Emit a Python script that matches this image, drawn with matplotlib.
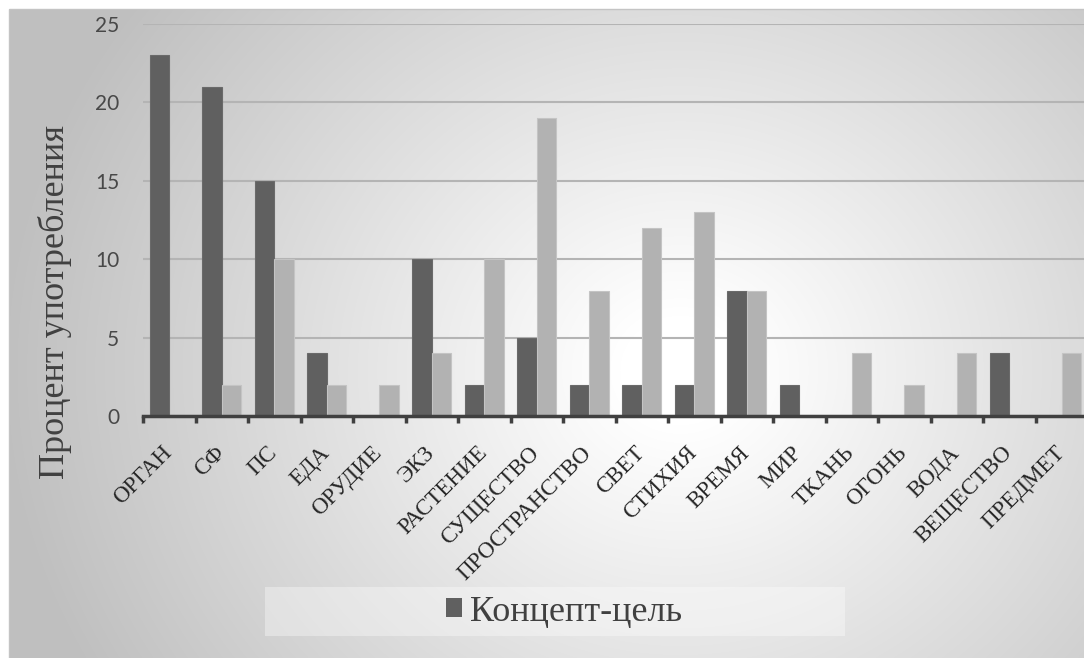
import numpy as np
import matplotlib
matplotlib.use("Agg")
import matplotlib.pyplot as plt
from matplotlib.patches import Rectangle, Patch

# Data
categories = ["ОРГАН", "СФ", "ПС", "ЕДА", "ОРУДИЕ", "ЭКЗ", "РАСТЕНИЕ", "СУЩЕСТВО",
              "ПРОСТРАНСТВО", "СВЕТ", "СТИХИЯ", "ВРЕМЯ", "МИР", "ТКАНЬ", "ОГОНЬ",
              "ВОДА", "ВЕЩЕСТВО", "ПРЕДМЕТ"]
target_vals = [23, 21, 15, 4, 0, 10, 2, 5, 2, 2, 2, 8, 2, 0, 0, 0, 4, 0]
source_vals = [0, 2, 10, 2, 2, 4, 10, 19, 8, 12, 13, 8, 0, 4, 2, 4, 0, 4]
y_ticks = [0, 5, 10, 15, 20, 25]

W, H = 1084, 658
SERIF = ["Liberation Serif", "DejaVu Serif"]
DARK = "#606060"
LIGHT = "#b2b2b2"

fig = plt.figure(figsize=(W / 100, H / 100), dpi=100)

# Background panel with radial grey gradient
bg = fig.add_axes([0, 0, 1, 1], zorder=-10)
bg.set_xlim(0, W)
bg.set_ylim(H, 0)
bg.axis("off")
xx, yy = np.meshgrid(np.arange(W), np.arange(H))
d = np.hypot((xx - 680) * 1.0, (yy - 370) * 1.1)
shade = 1 - 0.25 * np.clip((d - 60) / 620, 0, 1)
shade[(xx < 9) | (yy < 9)] = 1.0
bg.imshow(np.dstack([shade] * 3), extent=(0, W, H, 0), interpolation="bilinear")
bg.add_patch(Rectangle((9, 9), W, H, fill=False, edgecolor="#c4c4c4", lw=1))

# Legend box (slightly lighter band)
bg.add_patch(Rectangle((265, 587), 580, 49, facecolor="white", alpha=0.35, edgecolor="none"))

# Main chart
ax = fig.add_axes([143 / W, 1 - 416 / H, 945 / W, 392 / H])
ax.patch.set_alpha(0)
x = np.arange(len(categories))
w = 0.375
ax.bar(x - w / 2, target_vals, width=w, color=DARK, edgecolor="#6a6a6a", lw=0.8, zorder=3)
ax.bar(x + w / 2, source_vals, width=w, color=LIGHT, edgecolor="#c4c4c4", lw=0.8, zorder=3)

ax.set_xlim(-0.5, len(categories) - 0.5)
ax.set_ylim(0, 25)
ax.set_yticks(y_ticks)
ax.yaxis.grid(True, color="#b4b4b4", lw=1.5, zorder=0)
ax.tick_params(axis="y", length=0, pad=17, labelsize=15, labelcolor="#484848")
for lab in ax.get_yticklabels():
    lab.set_family(["Lato", "DejaVu Sans"])

for side in ["top", "right", "left"]:
    ax.spines[side].set_visible(False)
ax.spines["bottom"].set_color("#404040")
ax.spines["bottom"].set_linewidth(2.5)
ax.spines["bottom"].set_zorder(5)

ax.set_xticks(x - 0.15)
ax.set_xticklabels(categories, rotation=45, ha="right", rotation_mode="anchor",
                   family=SERIF, fontsize=16.5, color="#262626")
ax.tick_params(axis="x", which="major", length=0, pad=19)
ax.set_xticks(np.arange(-0.5, len(categories)), minor=True)
ax.tick_params(axis="x", which="minor", length=5, width=2.5, color="#404040", direction="out")

# Axis title
fig.text(55 / W, 1 - 302 / H, "Процент употребления", rotation=90, ha="center", va="center",
         family=SERIF, fontsize=26, color="#404040")

# Legend
handle = Patch(facecolor=DARK, edgecolor="none")
fig.legend([handle], ["Концепт-цель"], loc="center", bbox_to_anchor=(564 / W, 1 - 612 / H),
           frameon=False, prop={"family": SERIF, "size": 26}, labelcolor="#404040",
           handlelength=0.45, handleheight=0.45, handletextpad=0.2)

fig.savefig("out.png", dpi=100)
